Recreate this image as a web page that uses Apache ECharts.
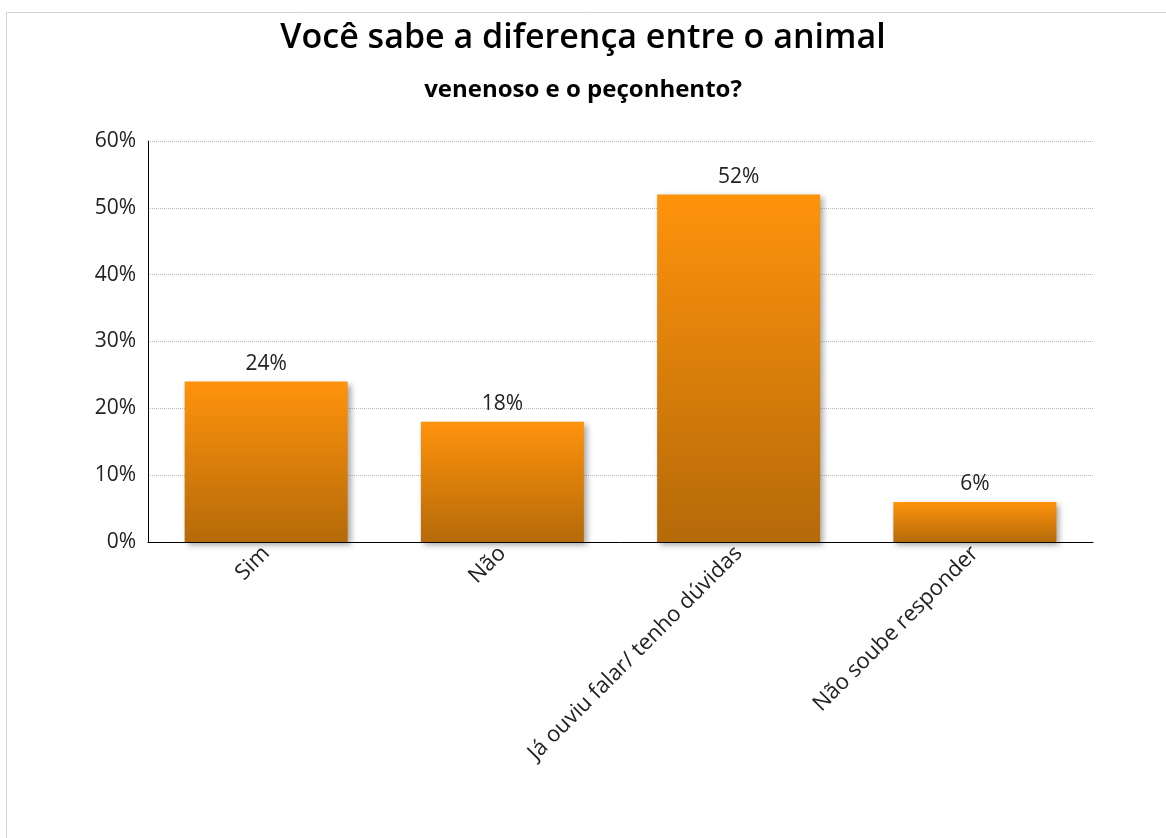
<!DOCTYPE html>
<html><head><meta charset="utf-8">
<script src="https://cdn.jsdelivr.net/npm/echarts@6/dist/echarts.min.js"></script>
<style>html,body{margin:0;padding:0;background:#fff}#c{width:1166px;height:838px}</style>
</head><body><div id="c"></div>
<script>
const categories = ['Sim', 'Não', 'Já ouviu falar/ tenho dúvidas', 'Não soube responder'];
const values = [24, 18, 52, 6];
const yTicks = { min: 0, max: 60, interval: 10 };

const chart = echarts.init(document.getElementById('c'));
chart.setOption({
  backgroundColor: '#fff',
  animation: false,
  title: [
    { text: 'Você sabe a diferença entre o animal', left: 'center', top: 16,
      textStyle: { fontFamily: 'Open Sans', fontWeight: 600, fontSize: 34, color: '#000' } },
    { text: 'venenoso e o peçonhento?', left: 'center', top: 73,
      textStyle: { fontFamily: 'Open Sans', fontWeight: 'bold', fontSize: 24, color: '#000' } }
  ],
  graphic: [{ type: 'rect', shape: { x: 6.5, y: 12.5, width: 1200, height: 900 }, style: { fill: 'none', stroke: '#d4d4d4', lineWidth: 1 }, z: -1 }],
  grid: { left: 148, right: 73, top: 141, bottom: 296, containLabel: false },
  xAxis: {
    type: 'category', data: categories,
    axisLine: { lineStyle: { color: '#000', width: 1 } },
    axisTick: { show: false },
    axisLabel: { rotate: 45, fontFamily: 'Open Sans', fontSize: 22, color: '#222', margin: 8, interval: 0 }
  },
  yAxis: {
    type: 'value', min: yTicks.min, max: yTicks.max, interval: yTicks.interval,
    axisLine: { show: true, lineStyle: { color: '#000' } },
    axisTick: { show: false },
    axisLabel: { formatter: '{value}%', fontFamily: 'Open Sans', fontSize: 21, color: '#222', margin: 12 },
    splitLine: { lineStyle: { type: 'dotted', color: '#bbb' } }
  },
  series: [{
    type: 'bar', data: values, barWidth: '69%',
    itemStyle: {
      color: new echarts.graphic.LinearGradient(0, 0, 0, 1, [
        { offset: 0, color: '#FF930C' }, { offset: 1, color: '#B56A09' }
      ]),
      shadowColor: 'rgba(0,0,0,0.35)', shadowBlur: 6, shadowOffsetX: 3, shadowOffsetY: 3
    },
    label: { show: true, position: 'top', distance: 7, formatter: '{c}%', fontFamily: 'Open Sans', fontSize: 21, color: '#222' }
  }]
});
</script></body></html>
